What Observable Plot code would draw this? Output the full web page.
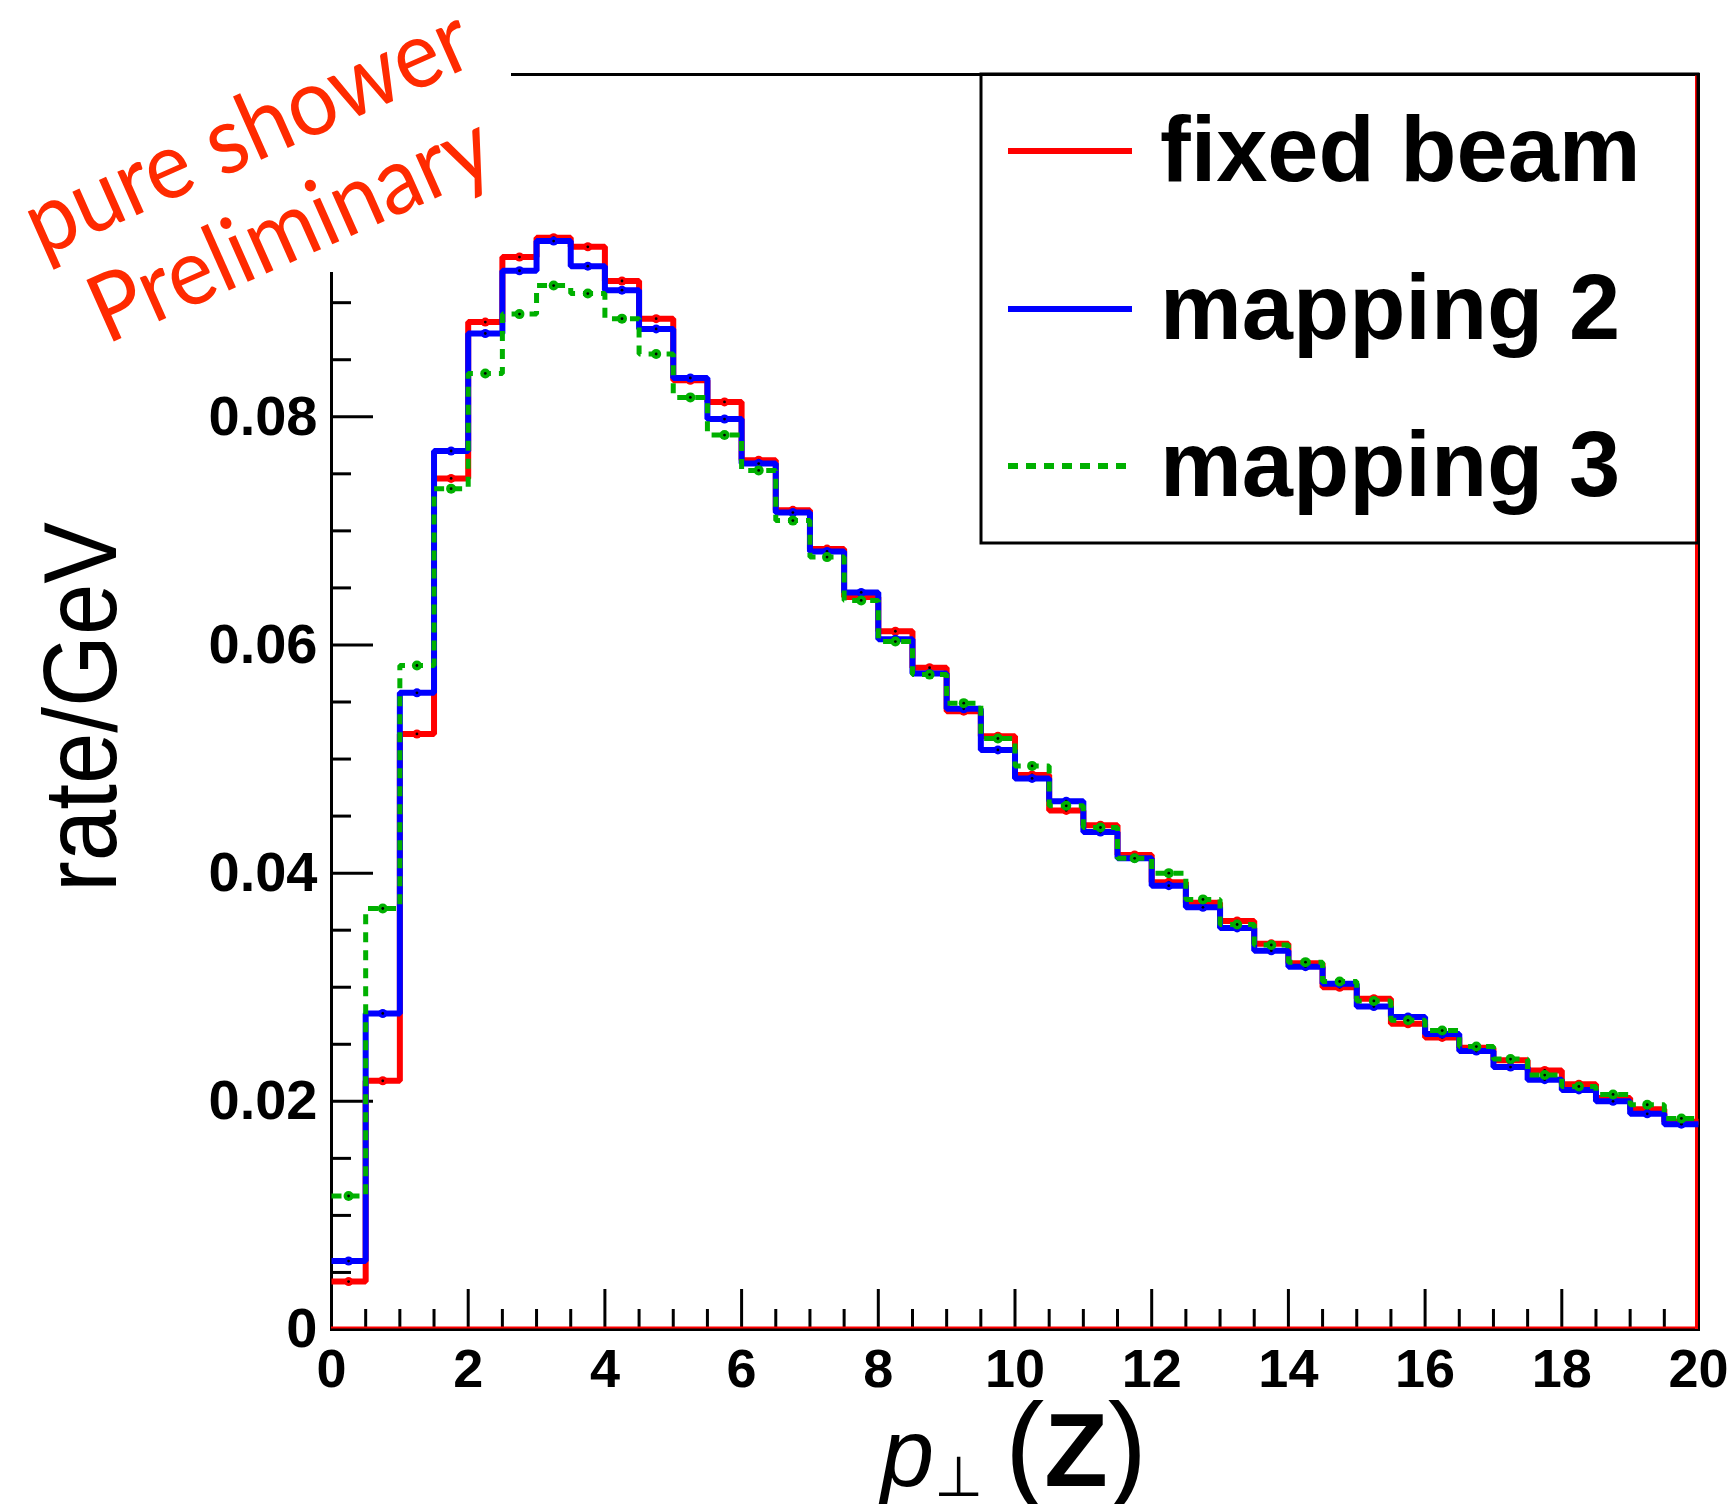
<!DOCTYPE html>
<html><head><meta charset="utf-8">
<script src="https://cdn.jsdelivr.net/npm/d3@7"></script>
<script src="https://cdn.jsdelivr.net/npm/@observablehq/plot@0.6"></script>
<style>html,body{margin:0;padding:0;background:#fff;} #chart svg{display:block;}</style>
</head><body><div id="chart"></div>
<script>
// ---- data ----
const binEdges = [0,0.5,1,1.5,2,2.5,3,3.5,4,4.5,5,5.5,6,6.5,7,7.5,8,8.5,9,9.5,10,
  10.5,11,11.5,12,12.5,13,13.5,14,14.5,15,15.5,16,16.5,17,17.5,18,18.5,19,19.5,20];
const fixedBeam = [0.0042,0.0218,0.0522,0.0746,0.0883,0.0940,0.0957,0.0949,0.0919,0.0886,
  0.0832,0.0813,0.0762,0.0718,0.0684,0.0642,0.0612,0.0580,0.0542,0.0520,
  0.0486,0.0455,0.0442,0.0416,0.0392,0.0374,0.0358,0.0338,0.0321,0.0300,
  0.0290,0.0268,0.0256,0.0247,0.0236,0.0227,0.0215,0.0203,0.0193,0.0182];
const mapping2 = [0.0060,0.0277,0.0558,0.0770,0.0873,0.0928,0.0954,0.0932,0.0911,0.0877,
  0.0834,0.0798,0.0759,0.0716,0.0682,0.0646,0.0605,0.0575,0.0544,0.0508,
  0.0483,0.0463,0.0436,0.0413,0.0389,0.0370,0.0352,0.0332,0.0318,0.0303,
  0.0283,0.0274,0.0259,0.0244,0.0230,0.0219,0.0210,0.0200,0.0189,0.0180];
const mapping3 = [0.0117,0.0369,0.0582,0.0737,0.0838,0.0890,0.0915,0.0908,0.0886,0.0855,
  0.0817,0.0784,0.0753,0.0709,0.0677,0.0639,0.0603,0.0574,0.0549,0.0518,
  0.0494,0.0459,0.0440,0.0413,0.0400,0.0377,0.0355,0.0337,0.0322,0.0305,
  0.0288,0.0271,0.0262,0.0248,0.0237,0.0223,0.0213,0.0206,0.0197,0.0185];
const seriesNames = ["fixed beam","mapping 2","mapping 3"];
const seriesColors = ["#ff0000","#0000ff","#00b000"];
const xTickLabels = [0,2,4,6,8,10,12,14,16,18,20];
const xMinorTicks = [0.5,1,1.5,2.5,3,3.5,4.5,5,5.5,6.5,7,7.5,8.5,9,9.5,10.5,11,11.5,
  12.5,13,13.5,14.5,15,15.5,16.5,17,17.5,18.5,19,19.5];
const yTickLabels = [0,0.02,0.04,0.06,0.08];
const yMajorTicks = [0,0.02,0.04,0.06,0.08,0.10];
const yMinorTicks = [0.005,0.01,0.015,0.025,0.03,0.035,0.045,0.05,0.055,0.065,0.07,0.075,
  0.085,0.09,0.095,0.105];
const xTitle = ["p","\u22A5","(","Z",")"];
const yTitle = "rate/GeV";
const annotation = ["pure shower","Preliminary"];

// ---- tables built from the arrays ----
function steps(values, name) {
  const pts = values.map((v, i) => ({x: binEdges[i], y: v, series: name}));
  pts.push({x: binEdges[values.length], y: values[values.length - 1], series: name});
  return pts;
}
function centers(values, name) {
  return values.map((v, i) => ({x: (binEdges[i] + binEdges[i + 1]) / 2, y: v, series: name}));
}
const allSeries = [fixedBeam, mapping2, mapping3];

const W = 1732, H = 1504, mL = 331, mR = 34, mT = 74, mB = 175;
const frameW = W - mL - mR, frameH = H - mT - mB;

function whiteBox() {
  const r = document.createElementNS("http://www.w3.org/2000/svg", "rect");
  r.setAttribute("x", 0); r.setAttribute("y", 0);
  r.setAttribute("width", 511); r.setAttribute("height", 272);
  r.setAttribute("fill", "white");
  return r;
}

const histMarks = [];
allSeries.forEach((vals, i) => {
  const name = seriesNames[i], col = seriesColors[i];
  histMarks.push(Plot.line(steps(vals, name), {
    x: "x", y: "y", curve: "step-after", stroke: col, strokeWidth: i === 2 ? 5 : 6,
    strokeDasharray: i === 2 ? "10,8" : null, strokeLinejoin: "miter", strokeLinecap: "butt"
  }));
  histMarks.push(Plot.dot(centers(vals, name), {x: "x", y: "y", r: i === 2 ? 5 : 4.5, fill: col, stroke: null}));
  histMarks.push(Plot.dot(centers(vals, name), {x: "x", y: "y", r: 1.4, fill: "black", stroke: null}));
});

const chart = Plot.plot({
  width: W, height: H,
  marginLeft: mL, marginRight: mR, marginTop: mT, marginBottom: mB,
  x: {domain: [0, 20]},
  y: {domain: [0, 0.110]},
  style: {background: "white", fontFamily: "'Liberation Sans', Arial, sans-serif", overflow: "visible"},
  marks: [
    Plot.frame({stroke: "black", strokeWidth: 3}),
    Plot.tickX(xTickLabels, {x: d => d, stroke: "black", strokeWidth: 3, insetTop: frameH - 40}),
    Plot.tickX(xMinorTicks, {x: d => d, stroke: "black", strokeWidth: 3, insetTop: frameH - 20}),
    Plot.tickY(yMajorTicks, {y: d => d, stroke: "black", strokeWidth: 3, insetRight: frameW - 42}),
    Plot.tickY(yMinorTicks, {y: d => d, stroke: "black", strokeWidth: 3, insetRight: frameW - 20}),
    Plot.axisX(xTickLabels, {tickSize: 0, tickPadding: 19, fontSize: 54, fontWeight: "bold", label: null,
      tickFormat: d => String(d)}),
    Plot.axisY(yTickLabels, {tickSize: 0, tickPadding: 14, fontSize: 56, fontWeight: "bold", label: null,
      tickFormat: d => d === 0 ? "0" : d.toFixed(2)}),
    whiteBox,
    Plot.ruleY([0], {stroke: "#ff0000", strokeWidth: 2, dy: -2}),
    Plot.ruleX([20], {stroke: "#ff0000", strokeWidth: 3, dx: -2}),
    ...histMarks
  ]
});
document.getElementById("chart").appendChild(chart);

// ---- decorations: legend, titles, annotation ----
const svg = d3.select(chart);
const lg = svg.append("g");
lg.append("rect").attr("x", 981).attr("y", 74).attr("width", 717).attr("height", 469)
  .attr("fill", "none").attr("stroke", "black").attr("stroke-width", 3);
const rowY = [151, 309, 466];
seriesNames.forEach((name, i) => {
  lg.append("line").attr("x1", 1008).attr("x2", 1132).attr("y1", rowY[i]).attr("y2", rowY[i])
    .attr("stroke", seriesColors[i]).attr("stroke-width", 6)
    .attr("stroke-dasharray", i === 2 ? "10,8" : null);
  lg.append("text").attr("x", 1160).attr("y", rowY[i] + 30).attr("text-anchor", "start")
    .attr("font-family", "'Liberation Sans', Arial, sans-serif").attr("font-weight", "bold")
    .attr("font-size", 92).attr("fill", "black").text(name);
});

svg.append("text").attr("transform", "translate(116,707) rotate(-90)")
  .attr("text-anchor", "middle").attr("font-family", "'Liberation Sans', Arial, sans-serif")
  .attr("font-size", 104).attr("fill", "black")
  .attr("textLength", 370).attr("lengthAdjust", "spacingAndGlyphs").text(yTitle);

const xt = svg.append("text").attr("x", 1014).attr("y", 1486).attr("text-anchor", "middle")
  .attr("font-family", "'Liberation Sans', 'DejaVu Sans', sans-serif").attr("fill", "black");
xt.append("tspan").attr("font-style", "italic").attr("font-size", 96).text(xTitle[0]);
xt.append("tspan").attr("font-size", 56).attr("dy", 10).attr("font-family", "'DejaVu Sans', sans-serif").text(xTitle[1]);
xt.append("tspan").attr("font-size", 118).attr("dy", -10).attr("dx", 22).text(xTitle[2]);
xt.append("tspan").attr("font-size", 104).attr("font-weight", "bold").text(xTitle[3]);
xt.append("tspan").attr("font-size", 118).text(xTitle[4]);

const ann = [{t: annotation[0], cx: 250, cy: 138, len: 478}, {t: annotation[1], cx: 293, cy: 235, len: 430}];
ann.forEach(a => {
  svg.append("text").attr("transform", `translate(${a.cx},${a.cy}) rotate(-24)`)
    .attr("text-anchor", "middle").attr("dy", "0.26em")
    .attr("font-family", "Lato, 'Open Sans', sans-serif").attr("font-size", 94)
    .attr("fill", "#ff2a00").attr("textLength", a.len).attr("lengthAdjust", "spacingAndGlyphs")
    .text(a.t);
});
</script>
</body></html>
